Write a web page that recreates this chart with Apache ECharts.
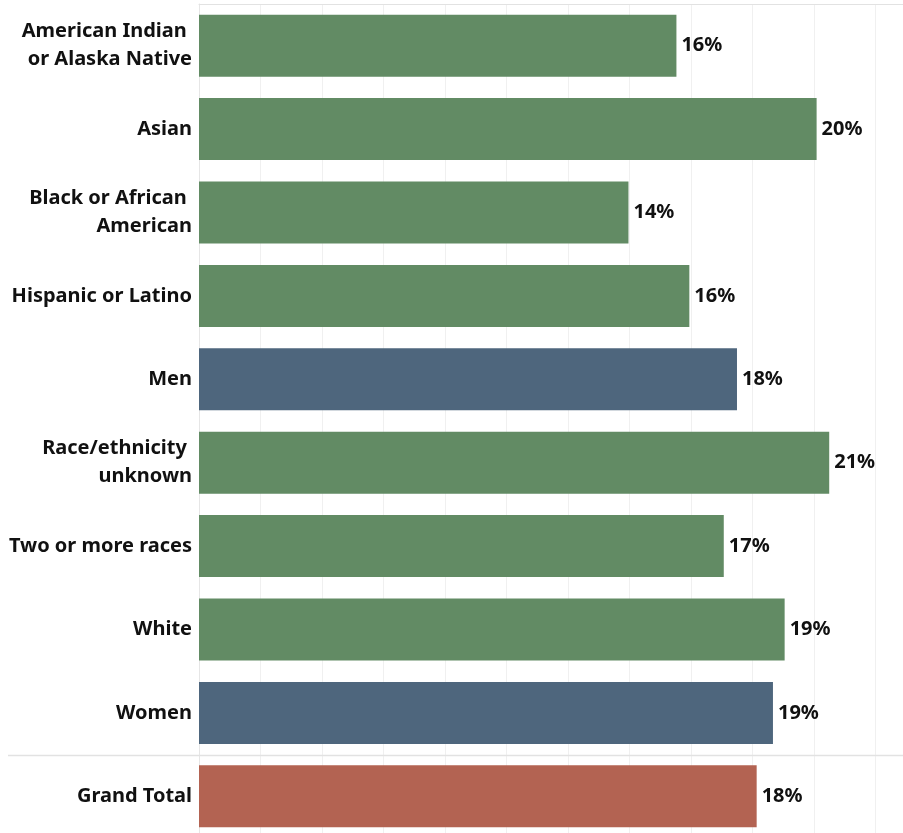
<!DOCTYPE html>
<html>
<head>
<meta charset="utf-8">
<script src="https://cdn.jsdelivr.net/npm/echarts@6/dist/echarts.min.js"></script>
<style>
	html, body { margin: 0; padding: 0; background: #fff; }
	#chart-1 { width: 903px; height: 833px; }
</style>
</head>
<body>
<div id="chart-1"></div>
<script>
var categories = [
	'American Indian \nor Alaska Native',
	'Asian',
	'Black or African \nAmerican',
	'Hispanic or Latino',
	'Men',
	'Race/ethnicity \nunknown',
	'Two or more races',
	'White',
	'Women',
	'Grand Total'
];
// share in percent
var values = [15.53, 20.09, 13.97, 15.95, 17.5, 20.5, 17.07, 19.05, 18.67, 18.14];
// which colour group each row belongs to
var groups = ['race', 'race', 'race', 'race', 'gender', 'race', 'race', 'race', 'gender', 'total'];

var groupColors = {
	race: '#628b64',
	gender: '#4e667d',
	total: '#b36352'
};

var myChart = echarts.init(document.getElementById('chart-1'));

var font = '"Noto Sans", sans-serif';

var option = {
	animation: false,
	grid: {
		left: 199,
		right: 0,
		top: 4,
		height: 834,
		outerBoundsMode: 'none'
	},
	xAxis: {
		type: 'value',
		position: 'top',
		min: 0,
		max: 22.9,
		interval: 2,
		axisLine: { show: true, lineStyle: { color: '#e2e2e2', width: 1 } },
		axisTick: { show: false },
		axisLabel: { show: false },
		splitLine: { show: true, lineStyle: { color: '#f0f0f0', width: 1 } }
	},
	yAxis: {
		type: 'category',
		inverse: true,
		data: categories,
		axisLine: { show: true, lineStyle: { color: '#e6e6e6' } },
		axisTick: { show: false },
		axisLabel: {
			margin: 7,
			color: '#111',
			fontFamily: font,
			fontWeight: 'bold',
			fontSize: 20,
			lineHeight: 28,
			align: 'right'
		}
	},
	series: [{
		type: 'bar',
		barCategoryGap: '25.6%',
		data: values.map(function (v, i) {
			return { value: v, itemStyle: { color: groupColors[groups[i]] } };
		}),
		label: {
			show: true,
			position: 'right',
			distance: 5,
			color: '#111',
			fontFamily: font,
			fontWeight: 'bold',
			fontSize: 20,
			formatter: function (p) {
				return Math.round(p.value) + '%';
			}
		}
	}]
};

myChart.setOption(option);

// separator line above Grand Total, across the label area too
var lastIdx = categories.length - 1;
var yA = myChart.convertToPixel({ yAxisIndex: 0 }, categories[lastIdx - 1]);
var yB = myChart.convertToPixel({ yAxisIndex: 0 }, categories[lastIdx]);
var sepY = Math.round((yA + yB) / 2) + 0.5;

myChart.setOption({
	graphic: [{
		type: 'line',
		shape: { x1: 8, y1: sepY, x2: 903, y2: sepY },
		style: { stroke: '#e2e2e2', lineWidth: 1.5 },
		z: 10
	}]
});
</script>
</body>
</html>
